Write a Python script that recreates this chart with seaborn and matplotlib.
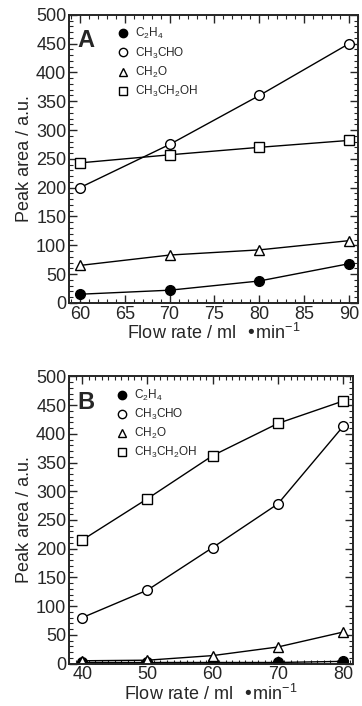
import matplotlib
matplotlib.use("Agg")
import matplotlib.pyplot as plt
import seaborn as sns
from matplotlib.lines import Line2D
from matplotlib.ticker import MultipleLocator

# ===============================
# Data
# ===============================
series_names = ["C$_2$H$_4$", "CH$_3$CHO", "CH$_2$O", "CH$_3$CH$_2$OH"]

flow_a = [60, 70, 80, 90]
c2h4_a = [15, 22, 38, 68]
ch3cho_a = [200, 275, 360, 450]
ch2o_a = [65, 83, 92, 108]
etoh_a = [243, 257, 270, 282]

flow_b = [40, 50, 60, 70, 80]
c2h4_b = [2, 2, 2, 2, 4]
ch3cho_b = [80, 128, 202, 278, 413]
ch2o_b = [5, 6, 14, 29, 55]
etoh_b = [215, 287, 362, 418, 457]

# ===============================
# Style
# ===============================
sns.set_style("ticks")
plt.rcParams["font.family"] = ["Liberation Sans", "DejaVu Sans"]
plt.rcParams["mathtext.default"] = "regular"
plt.rcParams["axes.linewidth"] = 1.4

markers = ["o", "o", "^", "s"]
faces = ["black", "white", "white", "white"]


def draw_panel(ax, x, ys, letter, xlim, xmajor):
    for y, m, fc in zip(ys, markers, faces):
        sns.lineplot(x=x, y=y, ax=ax, color="black", lw=1.0, marker=m,
                     markersize=7, mfc=fc, mec="black", mew=1.0)
    ax.set_xlim(*xlim)
    ax.set_ylim(0, 500)
    ax.xaxis.set_major_locator(MultipleLocator(xmajor))
    ax.xaxis.set_minor_locator(MultipleLocator(1))
    ax.yaxis.set_major_locator(MultipleLocator(50))
    ax.yaxis.set_minor_locator(MultipleLocator(10))
    ax.tick_params(which="both", direction="in", top=True, right=True,
                   labelsize=13, width=1.0, pad=2)
    ax.tick_params(which="major", length=6)
    ax.tick_params(which="minor", length=3, width=0.8)
    ax.set_xlabel("Flow rate / ml  \u2022min$^{-1}$", fontsize=13, labelpad=0)
    ax.set_ylabel("Peak area / a.u.", fontsize=13, labelpad=2)
    ax.text(0.03, 0.95, letter, transform=ax.transAxes, fontsize=17,
            fontweight="bold", va="top", ha="left")
    handles = [Line2D([], [], ls="none", marker=m, color="black", mfc=fc,
                      mec="black", markersize=6) for m, fc in zip(markers, faces)]
    ax.legend(handles, series_names, loc="upper left",
              bbox_to_anchor=(0.12, 0.985), frameon=False, fontsize=8.5,
              handletextpad=0.0, labelspacing=0.35, borderaxespad=0.2)


fig = plt.figure(figsize=(3.62, 7.06), dpi=100)
ax_a = fig.add_axes([0.191, 0.571, 0.798, 0.408])
ax_b = fig.add_axes([0.191, 0.060, 0.784, 0.407])

draw_panel(ax_a, flow_a, [c2h4_a, ch3cho_a, ch2o_a, etoh_a], "A", (58.8, 91.0), 5)
draw_panel(ax_b, flow_b, [c2h4_b, ch3cho_b, ch2o_b, etoh_b], "B", (38.0, 81.5), 10)

fig.savefig("out.png", dpi=100)
